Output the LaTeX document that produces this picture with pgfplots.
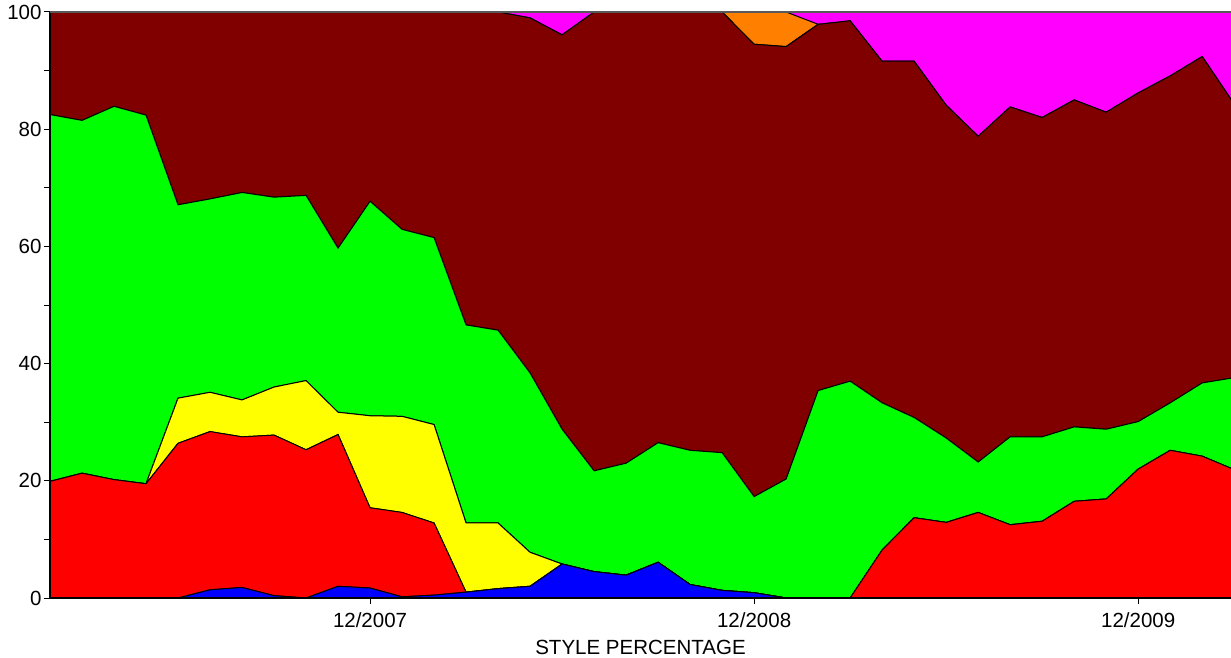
\documentclass[border=0pt]{standalone}
\usepackage{fontspec}
\setmainfont{Liberation Sans}
\usepackage{pgfplots}
\pgfplotsset{compat=1.18}
\usepackage{pgfplotstable}

\definecolor{cblue}{RGB}{0,0,255}
\definecolor{cred}{RGB}{255,0,0}
\definecolor{cyellow}{RGB}{255,255,0}
\definecolor{cgreen}{RGB}{0,255,0}
\definecolor{cmaroon}{RGB}{128,0,0}
\definecolor{corange}{RGB}{255,128,0}
\definecolor{cmagenta}{RGB}{255,0,255}

\pgfplotstableread{
x  blue red  yellow green maroon orange magenta
0  0    19.9 0      62.6  17.5   0      0
1  0    21.3 0      60.2  18.5   0      0
2  0    20.2 0      63.7  16.1   0      0
3  0    19.5 0      62.9  17.6   0      0
4  0    26.4 7.7    33.0  32.9   0      0
5  1.4  27.0 6.7    33.0  31.9   0      0
6  1.8  25.7 6.3    35.4  30.8   0      0
7  0.4  27.4 8.2    32.4  31.6   0      0
8  0    25.3 11.8   31.6  31.3   0      0
9  2.0  25.9 3.8    28.0  40.3   0      0
10 1.7  13.7 15.7   36.6  32.3   0      0
11 0.2  14.4 16.4   31.9  37.1   0      0
12 0.5  12.3 16.8   31.9  38.5   0      0
13 1.0  0    11.8   33.8  53.4   0      0
14 1.6  0    11.2   32.9  54.3   0      0
15 2.0  0    5.8    30.6  60.6   0      1.0
16 5.8  0    0      23.0  67.3   0      3.9
17 4.5  0    0      17.2  78.3   0      0
18 3.9  0    0      19.1  77.0   0      0
19 6.1  0    0      20.4  73.5   0      0
20 2.3  0    0      22.9  74.8   0      0
21 1.3  0    0      23.5  75.2   0      0
22 0.9  0    0      16.4  77.2   5.5    0
23 0    0    0      20.3  73.8   5.9    0
24 0    0    0      35.4  62.5   0      2.1
25 0    0    0      37.0  61.5   0      1.5
26 0    8.2  0      25.1  58.3   0      8.4
27 0    13.7 0      17.1  60.8   0      8.4
28 0    12.9 0      14.4  56.8   0      15.9
29 0    14.6 0      8.6   55.6   0      21.2
30 0    12.5 0      15.0  56.3   0      16.2
31 0    13.1 0      14.4  54.5   0      18.0
32 0    16.5 0      12.7  55.8   0      15.0
33 0    16.9 0      11.9  54.1   0      17.1
34 0    22.0 0      8.1   56.1   0      13.8
35 0    25.2 0      8.1   55.8   0      10.9
36 0    24.2 0      12.5  55.7   0      7.6
37 0    21.9 0      15.7  46.7   0      15.7
}\data

\begin{document}
\begin{tikzpicture}
\begin{axis}[
  scale only axis,
  width=1181pt, height=586pt,
  xmin=0, xmax=36.9, ymin=0, ymax=100,
  stack plots=y,
  axis x line*=bottom, axis y line*=left,
  axis line style={-, black, line width=1.3pt},
  axis on top,
  xtick={10,22,34}, xticklabels={12/2007,12/2008,12/2009},
  ytick={0,20,...,100}, minor ytick={10,30,50,70,90},
  tick align=outside,
  major tick length=6pt, minor tick length=6pt,
  tick style={black, line width=1pt},
  ticklabel style={font=\fontsize{20.5}{24}\selectfont},
  /pgf/number format/assume math mode=true,
  yticklabel style={xshift=1pt},
  xticklabel style={yshift=-5pt},
  xlabel={STYLE PERCENTAGE},
  xlabel style={font=\fontsize{20.5}{24}\selectfont, yshift=-6pt},
  every axis plot/.append style={line width=1pt},
]
\addplot[fill=cblue, draw=black] table[x=x,y=blue]{\data} \closedcycle;
\addplot[fill=cred, draw=black] table[x=x,y=red]{\data} \closedcycle;
\addplot[fill=cyellow, draw=black] table[x=x,y=yellow]{\data} \closedcycle;
\addplot[fill=cgreen, draw=black] table[x=x,y=green]{\data} \closedcycle;
\addplot[fill=cmaroon, draw=black] table[x=x,y=maroon]{\data} \closedcycle;
\addplot[fill=corange, draw=black] table[x=x,y=orange]{\data} \closedcycle;
\addplot[fill=cmagenta, draw=none] table[x=x,y=magenta]{\data} \closedcycle;
\coordinate (ll) at (rel axis cs:0,0);
\coordinate (ur) at (rel axis cs:1,1);
\end{axis}
\draw[gray!70!black, line width=1.5pt] (ll |- ur) -- (ur);
\pgfresetboundingbox
\path[use as bounding box] ([xshift=-50pt,yshift=-59pt]ll) rectangle ([yshift=12pt]ur);
\end{tikzpicture}
\end{document}
